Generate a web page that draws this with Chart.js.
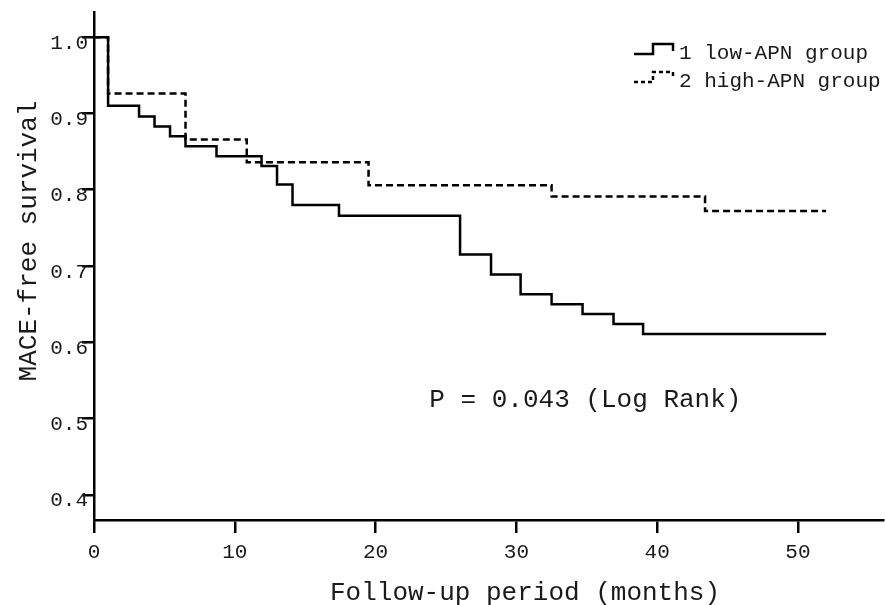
<!DOCTYPE html>
<html>
<head>
<meta charset="utf-8">
<script src="https://cdn.jsdelivr.net/npm/chart.js@4/dist/chart.umd.min.js"></script>
<style>
  body { margin: 0; background: #fff; }
</style>
</head>
<body>
<canvas id="myChart" width="885" height="605"></canvas>
<script>
    // Kaplan-Meier steps (months, survival)
    const lowTimes = [0, 1.0, 3.2, 4.3, 5.4, 6.5, 8.7, 11.9, 13.0, 14.1, 17.4, 26.0, 28.2, 30.3, 32.5, 34.7, 36.9, 39.0, 52.0];
    const lowSurv = [1.0, 0.910, 0.896, 0.883, 0.870, 0.857, 0.844, 0.831, 0.807, 0.780, 0.766, 0.715, 0.689, 0.663, 0.650, 0.637, 0.624, 0.611, 0.611];
    const highTimes = [0, 1.0, 6.5, 10.85, 19.5, 32.5, 43.4, 52.0];
    const highSurv = [1.0, 0.926, 0.866, 0.836, 0.806, 0.791, 0.772, 0.772];

    const seriesLabels = ['1 low-APN group', '2 high-APN group'];
    const xTicks = [0, 10, 20, 30, 40, 50];
    const yTicks = [0.4, 0.5, 0.6, 0.7, 0.8, 0.9, 1.0];
    const xTitle = 'Follow-up period (months)';
    const yTitle = 'MACE-free survival';
    const pText = 'P = 0.043 (Log Rank)';

    const mono = 'Liberation Mono, Courier New, monospace';
    const ink = '#1a1a1a';

    const toPoints = (xs, ys) => xs.map((x, i) => ({ x: x, y: ys[i] }));

    // legend as little step symbols, the p-value note and the axis titles
    // (titles sit off-centre in the original, so they are drawn here)
    const extras = {
        id: 'extras',
        afterDraw(chart) {
            const ctx = chart.ctx;
            const area = chart.chartArea;
            ctx.save();
            chart.data.datasets.forEach((ds, i) => {
                const cy = 53 + i * 28;
                const x0 = area.right - 249;
                ctx.beginPath();
                ctx.setLineDash(ds.borderDash ? [4, 3] : []);
                ctx.lineWidth = 2.5;
                ctx.strokeStyle = '#000';
                ctx.moveTo(x0, cy + 1);
                ctx.lineTo(x0 + 19, cy + 1);
                ctx.lineTo(x0 + 19, cy - 9);
                ctx.lineTo(x0 + 39, cy - 9);
                ctx.lineTo(x0 + 39, cy - 2);
                ctx.stroke();
                ctx.setLineDash([]);
                ctx.fillStyle = ink;
                ctx.font = '21px ' + mono;
                ctx.textAlign = 'left';
                ctx.textBaseline = 'middle';
                ctx.fillText(ds.label, x0 + 45, cy);
            });
            const xs = chart.scales.x, ys = chart.scales.y;
            ctx.fillStyle = ink;
            ctx.textAlign = 'center';
            ctx.textBaseline = 'middle';
            ctx.font = '26px ' + mono;
            ctx.fillText(pText, xs.getPixelForValue(34.9), ys.getPixelForValue(0.524));

            ctx.fillText(xTitle, area.left + 431, 593);
            ctx.translate(29, area.top + 229);
            ctx.rotate(-Math.PI / 2);
            ctx.fillText(yTitle, 0, 0);
            ctx.restore();
        }
    };

    const ctx = document.getElementById('myChart').getContext('2d');
    new Chart(ctx, {
        type: 'line',
        data: {
            datasets: [
                {
                    label: seriesLabels[0],
                    data: toPoints(lowTimes, lowSurv),
                    borderColor: '#000',
                    borderWidth: 2.5,
                    stepped: 'before',
                    pointRadius: 0,
                    fill: false
                },
                {
                    label: seriesLabels[1],
                    data: toPoints(highTimes, highSurv),
                    borderColor: '#000',
                    borderWidth: 2.5,
                    borderDash: [7, 4],
                    stepped: 'before',
                    pointRadius: 0,
                    fill: false
                }
            ]
        },
        options: {
            responsive: false,
            animation: false,
            layout: { padding: { top: 12, right: 2, left: 0, bottom: 0 } },
            plugins: {
                legend: { display: false },
                tooltip: { enabled: false }
            },
            scales: {
                x: {
                    type: 'linear',
                    min: 0,
                    max: 56.04,
                    afterFit: s => { s.height = 85; },
                    afterBuildTicks: s => { s.ticks = xTicks.map(v => ({ value: v })); },
                    border: { display: true, color: '#000', width: 2.5 },
                    grid: { drawOnChartArea: false, drawTicks: true, tickLength: 13, color: '#000', lineWidth: 2.5 },
                    ticks: {
                        color: ink,
                        font: { family: mono, size: 21 },
                        padding: 7,
                        maxRotation: 0,
                        callback: v => String(v)
                    }
                },
                y: {
                    type: 'linear',
                    min: 0.367,
                    max: 1.033,
                    afterFit: s => { s.width = 94; },
                    afterBuildTicks: s => { s.ticks = yTicks.map(v => ({ value: v })); },
                    border: { display: true, color: '#000', width: 2.5 },
                    grid: { drawOnChartArea: false, drawTicks: true, tickLength: 12, color: '#000', lineWidth: 2.5 },
                    ticks: {
                        color: ink,
                        font: { family: mono, size: 21 },
                        padding: -6,
                        labelOffset: 6,
                        callback: v => v.toFixed(1)
                    }
                }
            }
        },
        plugins: [extras]
    });
</script>
</body>
</html>
